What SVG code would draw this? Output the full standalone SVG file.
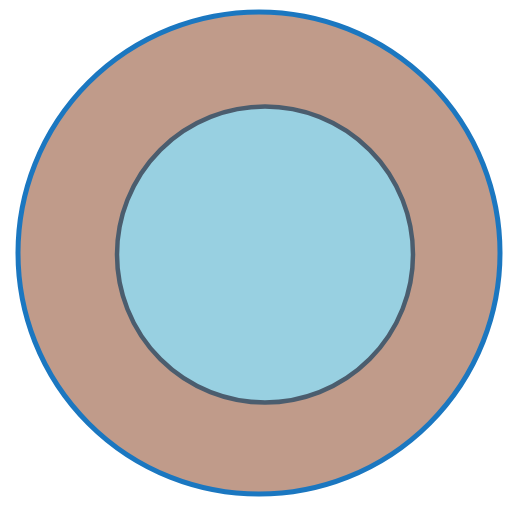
<svg xmlns="http://www.w3.org/2000/svg" width="508" height="509" viewBox="0 0 508 509">
<style>
.outer{fill:#c09b8a;stroke:#1b77c0;stroke-width:5}
.inner{fill:#98d0e1;stroke:#4b5d6e;stroke-width:4.5}
</style>
<rect width="508" height="509" fill="#ffffff"/>
<g id="outer-ring"><circle class="outer" cx="259" cy="253" r="241"/></g>
<g id="inner-core"><circle class="inner" cx="265" cy="254.5" r="148"/></g>
</svg>
